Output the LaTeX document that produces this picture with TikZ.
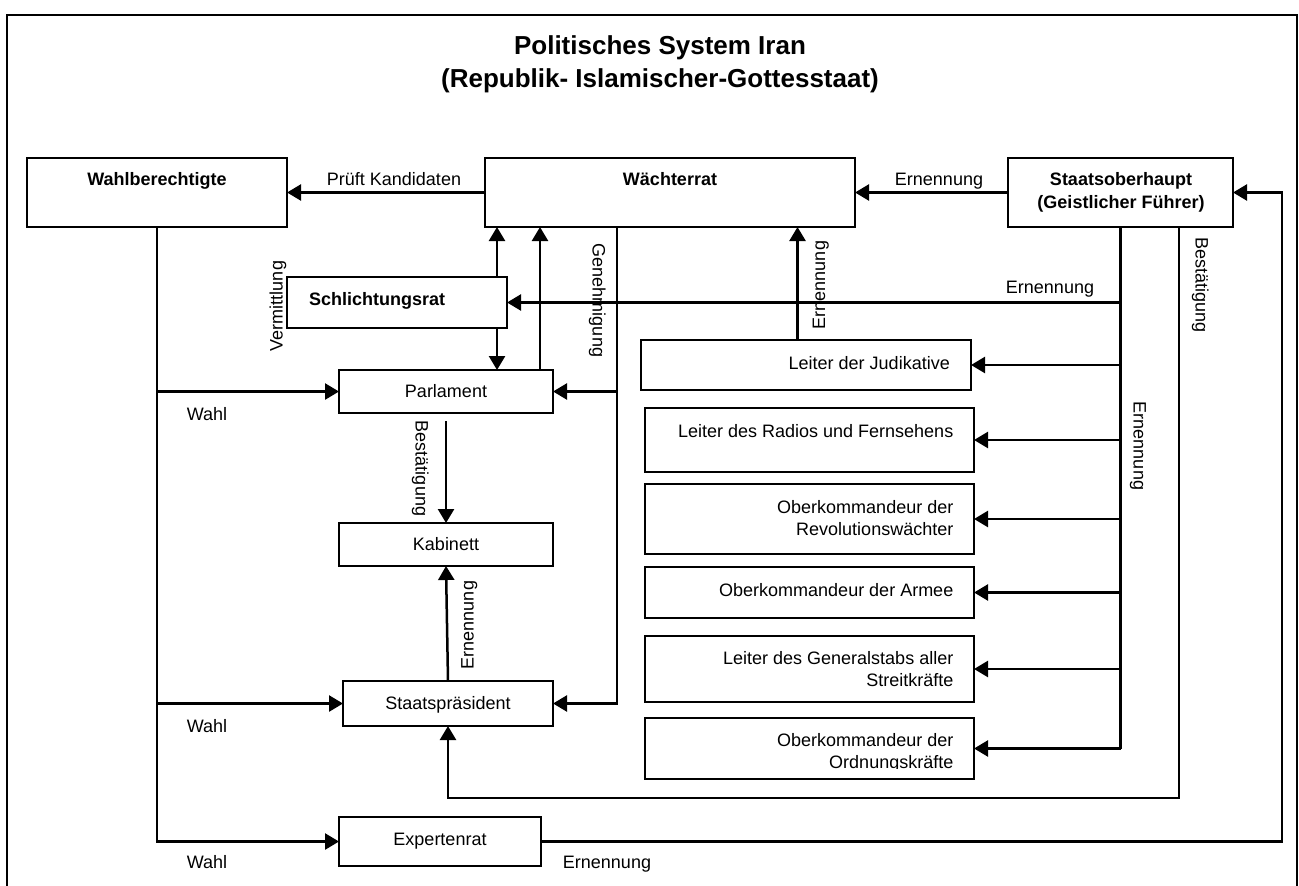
\documentclass[tikz,border=0pt]{standalone}
\usepackage{fontspec}
\setmainfont{Liberation Sans}
\usetikzlibrary{arrows.meta}

\begin{document}
\begin{tikzpicture}[x=1pt,y=-1pt,
  box/.style={draw, line width=2pt, inner sep=0pt, outer sep=0pt},
  lbl/.style={font=\fontsize{18}{22}\selectfont, inner sep=0pt, text height=13pt, text depth=4pt},
  blbl/.style={lbl, font=\fontsize{18}{22}\selectfont\bfseries},
  mlbl/.style={font=\fontsize{18}{22}\selectfont, inner sep=0pt, align=right, anchor=east},
  conn/.style={line width=2.5pt},
  arr/.style={conn, -{Triangle[length=14pt,width=16pt]}},
]
\useasboundingbox (0,0) rectangle (1299,886);

% outer frame
\draw[line width=2.5pt] (7,890) -- (7,15) -- (1297,15) -- (1297,890);

% title
\node[font=\fontsize{26}{33}\selectfont\bfseries, align=center, inner sep=0pt] (title) at (660,64)
  {Politisches System Iran\\(Republik- Islamischer-Gottesstaat)};

% boxes
\node[box, minimum width=260, minimum height=69] (wahl)   at (157,192.5) {};
\node[box, minimum width=370, minimum height=69] (waech)  at (670,192.5) {};
\node[box, minimum width=225, minimum height=69] (staats) at (1120.5,192.5) {};
\node[box, minimum width=220, minimum height=51] (schl)   at (397,302.5) {};
\node[box, minimum width=214, minimum height=43] (parl)   at (446,391.5) {};
\node[box, minimum width=214, minimum height=43] (kab)    at (446,544.5) {};
\node[box, minimum width=210, minimum height=45] (praes)  at (448,703.5) {};
\node[box, minimum width=202, minimum height=49] (exp)    at (440,841.5) {};
\node[box, minimum width=330, minimum height=50] (judik)  at (806,365) {};
\node[box, minimum width=329, minimum height=64] (radio)  at (809.5,440) {};
\node[box, minimum width=329, minimum height=70] (revo)   at (809.5,519) {};
\node[box, minimum width=329, minimum height=51] (armee)  at (809.5,592.5) {};
\node[box, minimum width=329, minimum height=66] (gstab)  at (809.5,669) {};
\node[box, minimum width=329, minimum height=61] (ordn)   at (809.5,748.5) {};

% box texts
\node[blbl] (wahl-t)  at (157,181) {Wahlberechtigte};
\node[blbl] (waech-t) at (670,181) {Wächterrat};
\node[font=\fontsize{18}{23}\selectfont\bfseries, align=center, inner sep=0pt] (staats-t) at (1121,192.5)
  {Staatsoberhaupt\\(Geistlicher Führer)};
\node[blbl, anchor=west] (schl-t) at (309,301) {Schlichtungsrat};
\node[lbl] (parl-t)  at (446,393) {Parlament};
\node[lbl] (kab-t)   at (446,546) {Kabinett};
\node[lbl] (praes-t) at (448,705) {Staatspräsident};
\node[lbl] (exp-t)   at (440,841) {Expertenrat};
\node[lbl, anchor=east] (judik-t) at (950,365) {Leiter der Judikative};
\node[lbl, anchor=east] (radio-t) at (953.5,433) {Leiter des Radios und Fernsehens};
\node[mlbl] (revo-t)  at (953.5,518) {Oberkommandeur der\\Revolutionswächter};
\node[lbl, anchor=east] (armee-t) at (953.5,592) {Oberkommandeur der Armee};
\node[mlbl] (gstab-t) at (953.5,669) {Leiter des Generalstabs aller\\Streitkräfte};
\begin{scope}
  \clip (645,718) rectangle (974,768);
  \node[mlbl] (ordn-t) at (953.5,753) {Oberkommandeur der\\Ordnungskräfte};
\end{scope}

% helper columns for the connectors
\coordinate (sx) at (497,0);
\coordinate (px) at (540,0);
\coordinate (gx) at (617,0);
\coordinate (jx) at (797.5,0);
\coordinate (bx) at (1179,798);
\coordinate (ex) at (1282,841.5);

% connectors
\draw[arr] (waech.west) -- (wahl.east);
\draw[arr] (staats.west) -- (waech.east);
\draw[arr] (schl.north -| sx) -- (waech.south -| sx);
\draw[arr] (schl.south -| sx) -- (parl.north -| sx);
\draw[arr] (parl.north -| px) -- (waech.south -| px);
\draw[arr] (waech.south -| gx) -- (gx |- praes.east) -- (praes.east);
\draw[arr] (gx |- parl.east) -- (parl.east);
\draw[arr] (judik.north -| jx) -- (waech.south -| jx);
\draw[conn] (staats.south) -- (staats.south |- ordn.east);
\foreach \b in {judik,radio,revo,armee,gstab,ordn}
  \draw[arr] (staats.south |- \b.east) -- (\b.east);
\draw[arr] (staats.south |- schl.east) -- (schl.east);
\draw[arr] (staats.south -| bx) -- (bx) -- (praes.south |- bx) -- (praes.south);
\draw[arr] (exp.east) -- (ex) -- (ex |- staats.east) -- (staats.east);
\draw[arr] (wahl.south) -- (wahl.south |- exp.west) -- (exp.west);
\draw[arr] (wahl.south |- parl.west) -- (parl.west);
\draw[arr] (wahl.south |- praes.west) -- (praes.west);
\draw[arr] ([yshift=-8pt]parl.south) -- (kab.north);
\draw[arr] (praes.north) -- (kab.south);

% connector labels
\node[lbl] (l-pruef) at (394,181) {Prüft Kandidaten};
\node[lbl] (l-ern1)  at (939,181) {Ernennung};
\node[lbl] (l-ern2)  at (1050,288.5) {Ernennung};
\node[lbl, rotate=90]  (l-verm)  at (278,306) {Vermittlung};
\node[lbl, rotate=-90] (l-gen)   at (597,300.5) {Genehmigung};
\node[lbl, rotate=90]  (l-ern3)  at (820.5,285) {Ernennung};
\node[lbl, rotate=-90] (l-best1) at (1200,285) {Bestätigung};
\node[lbl, rotate=-90] (l-ern4)  at (1138,446) {Ernennung};
\node[lbl, rotate=-90] (l-best2) at (420,468.5) {Bestätigung};
\node[lbl, rotate=90]  (l-ern5)  at (469,625) {Ernennung};
\node[lbl] (l-wahl1) at (207,416) {Wahl};
\node[lbl] (l-wahl2) at (207,728) {Wahl};
\node[lbl] (l-wahl3) at (207,864) {Wahl};
\node[lbl] (l-ern6)  at (607,864) {Ernennung};
\end{tikzpicture}
\end{document}
